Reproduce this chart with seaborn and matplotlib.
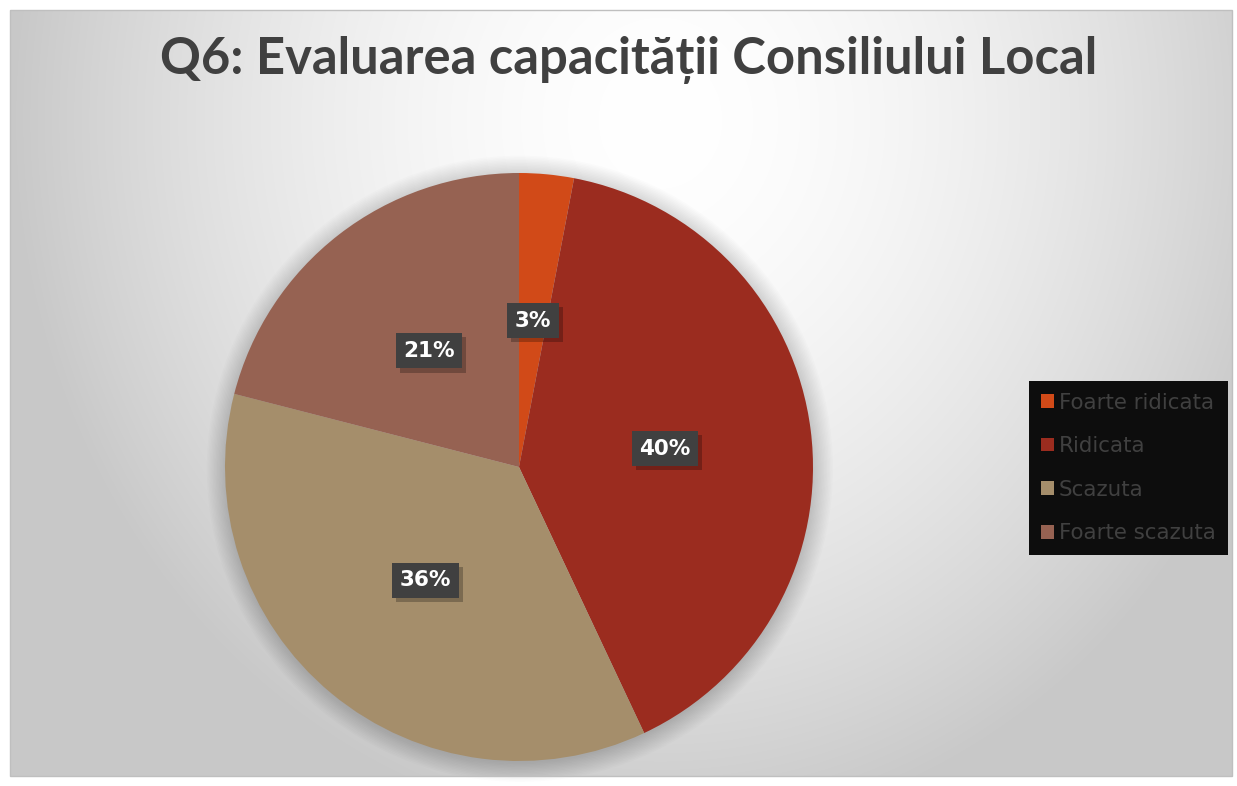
import numpy as np
import matplotlib
matplotlib.use("Agg")
import matplotlib.pyplot as plt
import matplotlib.patheffects as pe
from matplotlib.patches import Rectangle, Patch, Circle
import seaborn as sns

sns.set_theme(style="white")
plt.rcParams['font.family'] = ['DejaVu Sans']

# data
categories = ['Foarte ridicata', 'Ridicata', 'Scazuta', 'Foarte scazuta']
values = [3, 40, 36, 21]
colors = ['#D14A18', '#9B2C1F', '#A58E6B', '#966252']
title = 'Q6: Evaluarea capacității Consiliului Local'

W, H = 1237, 786
fig = plt.figure(figsize=(W / 100, H / 100), dpi=100)
fig.patch.set_facecolor('white')

# chart area background with radial gradient
x0, y0, x1, y1 = 10, 10, 1232, 776
bg = fig.add_axes([x0 / W, 1 - y1 / H, (x1 - x0) / W, (y1 - y0) / H])
yy, xx = np.mgrid[0:y1 - y0, 0:x1 - x0]
d = np.sqrt(((xx - 650) / 650) ** 2 + ((yy - 110) / 720) ** 2)
g = 1.0 - 0.215 * np.clip(d, 0, 1) ** 1.7
bg.imshow(np.dstack([g, g, g]), aspect='auto', extent=(0, 1, 0, 1), origin='upper')
bg.set_axis_off()
fig.add_artist(Rectangle((x0 / W, 1 - y1 / H), (x1 - x0) / W, (y1 - y0) / H,
                         transform=fig.transFigure, fill=False, edgecolor='#bfbfbf', lw=1))

# pie
cx, cy, r = 519, 467, 294
ax = fig.add_axes([(cx - 1.1 * r) / W, (H - cy - 1.1 * r) / H, 2.2 * r / W, 2.2 * r / H])
ax.set_facecolor('none')
for i in range(14):
    ax.add_patch(Circle((0.003, -0.006), 1 + 0.005 * i, facecolor='black',
                        edgecolor='none', alpha=0.011, zorder=0))
wedges, _, autotexts = ax.pie(values, colors=colors, startangle=90, counterclock=False,
                              autopct='%1.0f%%', pctdistance=0.5, radius=1,
                              wedgeprops=dict(linewidth=0, zorder=1))
ax.set_xlim(-1.1, 1.1)
ax.set_ylim(-1.1, 1.1)
ax.set_axis_off()

for t_ in autotexts:
    t_.set_color('white')
    t_.set_fontsize(15.5)
    t_.set_fontweight('bold')
    t_.set_bbox(dict(boxstyle='square,pad=0.35', facecolor='#404040', edgecolor='none'))
    t_.get_bbox_patch().set_path_effects([
        pe.SimplePatchShadow(offset=(3, -3), shadow_rgbFace='black', alpha=0.25),
        pe.Normal()])

# title
fig.text(629 / W, 1 - 60 / H, title, ha='center', va='center', fontsize=36.5,
         fontweight='bold', color='#404040', family=['Lato', 'DejaVu Sans'])

# legend
handles = [Patch(facecolor=c, edgecolor='none') for c in colors]
leg = fig.legend(handles, categories, loc='center left',
                 bbox_to_anchor=(1029 / W, 1 - 468 / H), frameon=True, fontsize=15.4,
                 labelcolor='#404040', handlelength=0.6, handleheight=0.6,
                 handletextpad=0.25, labelspacing=1.1, borderpad=0.55, borderaxespad=0)
leg.get_frame().set_facecolor('#0d0d0d')
leg.get_frame().set_edgecolor('none')
leg.get_frame().set_alpha(1)
leg.get_frame().set_boxstyle('square', pad=0)

fig.savefig('out.png', dpi=100)
